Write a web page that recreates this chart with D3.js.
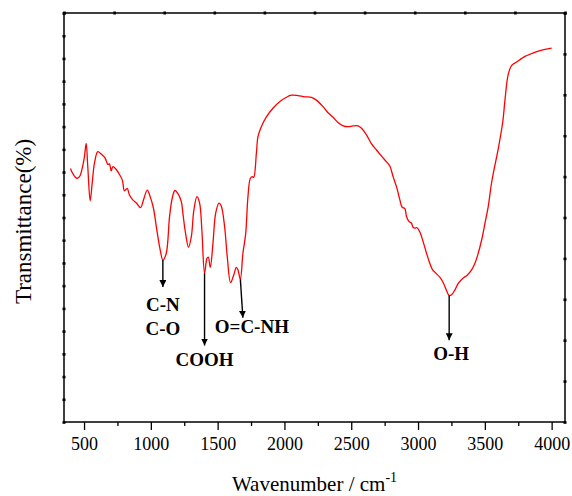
<!DOCTYPE html>
<html><head><meta charset="utf-8">
<script src="https://cdn.jsdelivr.net/npm/d3@7"></script>
<style>body{margin:0;background:#fff} svg{display:block}</style>
</head><body><svg id="c" width="572" height="496"></svg>
<script>
const wavenumber = [398,415,445,466,486,503,516,528,546,561,578,603,628,658,678,690,703,715,735,760,786,803,823,840,865,890,923,945,973,995,1020,1045,1070,1090,1115,1140,1160,1180,1202,1228,1240,1260,1282,1303,1322,1345,1365,1382,1402,1420,1430,1445,1465,1485,1510,1527,1552,1572,1597,1620,1640,1652,1670,1689,1710,1727,1745,1760,1770,1790,1802,1827,1865,1914,1964,2015,2052,2101,2152,2202,2239,2289,2326,2364,2401,2439,2476,2514,2551,2577,2614,2652,2689,2727,2764,2789,2813,2839,2864,2881,2901,2914,2933,2951,2963,2976,2993,3013,3038,3064,3088,3109,3133,3163,3188,3214,3233,3251,3276,3301,3334,3368,3401,3426,3450,3476,3501,3525,3552,3602,3635,3650,3675,3701,3738,3776,3800,3851,3900,3950,4000];
const transmittance = [62.0,60.8,59.6,60.0,62.0,64.9,68.1,62.4,54.1,58.4,63.3,66.1,65.5,64.5,63.0,63.1,61.4,62.4,62.0,60.8,59.2,56.5,57.1,55.5,54.3,53.6,52.4,54.3,56.7,55.1,52.2,46.9,42.1,39.6,41.2,50.2,54.7,56.6,55.9,53.9,51.0,46.1,42.7,45.3,51.8,55.1,53.5,46.9,36.4,40.0,40.3,37.8,43.7,51.0,53.5,52.8,47.8,40.4,34.1,35.9,37.8,37.2,34.9,41.2,46.1,55.1,59.6,60.0,59.8,65.7,69.8,72.2,74.6,76.7,78.3,79.4,79.9,79.8,79.5,79.4,78.7,77.1,75.6,74.5,73.2,72.4,72.2,72.4,72.4,71.8,70.2,68.0,66.5,65.0,63.6,62.6,60.0,57.5,54.3,52.5,52.2,50.2,49.0,48.6,47.6,47.4,47.5,46.5,44.1,41.2,38.8,37.2,36.4,35.4,34.1,32.1,30.9,31.1,32.3,33.9,35.1,35.9,37.2,38.8,41.2,44.5,48.6,52.6,58.8,67.1,73.6,78.5,85.0,87.2,88.0,88.9,89.4,90.1,90.7,91.1,91.4];
const xTicks = [500,1000,1500,2000,2500,3000,3500,4000];
const xMinorTicks = [750,1250,1750,2250,2750,3250,3750];
const annotWn = [1090,1402,1670,3233];
const annotTipWn = [1090,1402,1689,3233];
const annotTipT = [33.0,18.7,25.5,20.0];
const annotLabels = [["C-N","C-O"],["COOH"],["O=C-NH"],["O-H"]];

const W = 572, H = 496;
const m = {l:64, t:13, r:7, b:74};
const svg = d3.select("#c");
const x = d3.scaleLinear().domain([350,4100]).range([m.l, W-m.r]);
const y = d3.scaleLinear().domain([0,100]).range([H-m.b, m.t]);
const serif = "'Liberation Serif','Times New Roman',serif";

// decorative tick scales for top / left / right frame dots
const topS = d3.scaleLinear().domain([0,10]).range([m.l, W-m.r]);
const leftS = d3.scaleLinear().domain([0,18]).range([H-m.b, m.t]);
const rightS = d3.scaleLinear().domain([0,10]).range([H-m.b, m.t]);

function dots(g){ g.select(".domain").remove(); g.selectAll(".tick line").attr("stroke","#000").attr("stroke-width",2.6); }

svg.append("g").attr("transform",`translate(0,${m.t})`)
  .call(d3.axisTop(topS).tickValues(d3.range(0,11)).tickSize(0).tickFormat(""))
  .call(g=>{dots(g); g.selectAll(".tick line").attr("y1",-1.5).attr("y2",1.5);});
svg.append("g").attr("transform",`translate(${m.l},0)`)
  .call(d3.axisLeft(leftS).tickValues(d3.range(0,19)).tickSize(0).tickFormat(""))
  .call(g=>{dots(g); g.selectAll(".tick line").attr("x1",-1.5).attr("x2",1.5);});
svg.append("g").attr("transform",`translate(${W-m.r},0)`)
  .call(d3.axisRight(rightS).tickValues(d3.range(0,11)).tickSize(0).tickFormat(""))
  .call(g=>{dots(g); g.selectAll(".tick line").attr("x1",-1.5).attr("x2",1.5);});

// frame
svg.append("rect").attr("x",m.l).attr("y",m.t).attr("width",W-m.l-m.r).attr("height",H-m.t-m.b)
  .attr("fill","none").attr("stroke","#000").attr("stroke-width",1.5);

// bottom axis
const xa = svg.append("g").attr("transform",`translate(0,${H-m.b})`)
  .call(d3.axisBottom(x).tickValues(xTicks).tickSize(8).tickPadding(7).tickFormat(d3.format("d")));
xa.select(".domain").remove();
xa.selectAll(".tick line").attr("stroke","#000").attr("stroke-width",1.3);
xa.selectAll("text").attr("font-family",serif).attr("font-size",18).attr("fill","#000");
const xm = svg.append("g").attr("transform",`translate(0,${H-m.b})`)
  .call(d3.axisBottom(x).tickValues(xMinorTicks).tickSize(4).tickFormat(""));
xm.select(".domain").remove();
xm.selectAll(".tick line").attr("stroke","#000").attr("stroke-width",1.3);

// curve
const data = wavenumber.map((w,i)=>({w, t:transmittance[i]}));
svg.append("path").datum(data)
  .attr("fill","none").attr("stroke","#ff0000").attr("stroke-width",1.3)
  .attr("d", d3.line().x(d=>x(d.w)).y(d=>y(d.t)).curve(d3.curveCatmullRom.alpha(0.5)));

// arrows
const defs = svg.append("defs");
defs.append("marker").attr("id","ah").attr("viewBox","0 0 10 10").attr("refX",10).attr("refY",5)
  .attr("markerWidth",7).attr("markerHeight",7).attr("markerUnits","userSpaceOnUse").attr("orient","auto")
  .append("path").attr("d","M0,0 L10,5 L0,10 Z").attr("fill","#000");

function valAt(w){ let best=data[0]; data.forEach(d=>{ if(Math.abs(d.w-w)<Math.abs(best.w-w)) best=d; }); return best.t; }

annotWn.forEach((w,i)=>{
  const x1 = x(w), y1 = y(valAt(w));
  const x2 = x(annotTipWn[i]), y2 = y(annotTipT[i]);
  svg.append("line").attr("x1",x1).attr("y1",y1).attr("x2",x2).attr("y2",y2)
    .attr("stroke","#000").attr("stroke-width",1.4).attr("marker-end","url(#ah)");
  const lines = annotLabels[i];
  const gap = i===0 ? 24 : (i===2 ? 15 : 20);
  lines.forEach((s,j)=>{
    svg.append("text").attr("x", x2 + (i===2?9:(i===3?2:0))).attr("y", y2 + gap + j*24)
      .attr("text-anchor","middle").attr("font-family",serif).attr("font-weight","bold")
      .attr("font-size",19).attr("fill","#000").text(s);
  });
});

// axis titles
const xt = svg.append("text").attr("x",(m.l+W-m.r)/2).attr("y",491).attr("text-anchor","middle")
  .attr("font-family",serif).attr("font-size",21).attr("fill","#000");
xt.append("tspan").text("Wavenumber / cm");
xt.append("tspan").attr("dy",-9).attr("font-size",14).text("-1");

svg.append("text").attr("transform",`translate(31,${(m.t+H-m.b)/2 + 4}) rotate(-90)`)
  .attr("text-anchor","middle").attr("font-family",serif).attr("font-size",23).attr("fill","#000")
  .text("Transmittance(%)");
</script></body></html>
